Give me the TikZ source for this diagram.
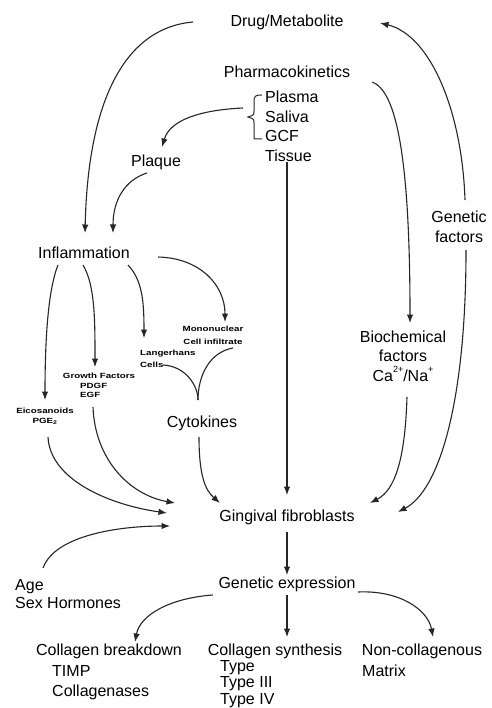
\documentclass[tikz,border=0pt]{standalone}
\usepackage{fontspec}
\setmainfont{Liberation Sans}
\newfontfamily\smallfnt[FakeStretch=1.3]{Liberation Sans}
\usetikzlibrary{calc,arrows.meta}
\newcommand{\supsm}[1]{\raisebox{0.55em}{\fontsize{9}{9}\selectfont #1}}
\begin{document}
\begin{tikzpicture}[x=1pt,y=-1pt,
  big/.style={font=\fontsize{16}{19.5}\selectfont, inner sep=0pt},
  tiny/.style={font=\smallfnt\bfseries\fontsize{7.5}{10}\selectfont, inner sep=0pt, align=center},
  arr/.style={draw=black!85, line width=1.1pt, -{Latex[length=8.5pt,width=6.5pt]}},
  ln/.style={draw=black!85, line width=1.1pt}]
\fill[white] (0,0) rectangle (491,708);
\useasboundingbox (0,0) rectangle (491,708);

% nodes
\node[big] (drug) at (287,22) {Drug/Metabolite};
\node[big] (pk) at (287,72) {Pharmacokinetics};
\node[big, anchor=west] (plasma) at (265,97) {Plasma};
\node[big, anchor=west] (saliva) at (265,117) {Saliva};
\node[big, anchor=west] (gcf) at (265,136) {GCF};
\node[big, anchor=west] (tissue) at (265,156) {Tissue};
\coordinate (bracetip) at (248,117);
\node[big] (plaque) at (156,162) {Plaque};
\node[big] (infl) at (84,253) {Inflammation};
\node[big, align=center] (genf) at (459,227) {Genetic\\factors};
\node[big, align=center] (biochem) at (403,356) {Biochemical\\factors\\Ca\supsm{2+}/Na\supsm{+}};
\node[tiny, font=\smallfnt\bfseries\fontsize{7.5}{13}\selectfont] (mono) at (213,335) {Mononuclear\\Cell infiltrate};
\node[tiny, align=left, anchor=west, font=\smallfnt\bfseries\fontsize{7.5}{12}\selectfont] (lang) at (140,359) {Langerhans\\Cells};
\node[tiny] (growth) at (99,376) {Growth Factors};
\node[tiny, anchor=west] (pdgf) at (80,386) {PDGF};
\node[tiny, anchor=west] (egf) at (80,395) {EGF};
\node[tiny] (eico) at (45,416) {Eicosanoids\\PGE\textsubscript{2}};
\node[big] (cyto) at (202,423) {Cytokines};
\node[big] (ging) at (287,517) {Gingival fibroblasts};
\node[big, align=left, anchor=west, font=\fontsize{16}{18}\selectfont] (age) at (15,594) {Age\\Sex Hormones};
\node[big] (genexp) at (287,584) {Genetic expression};
\node[big] (breakdown) at (109,651) {Collagen breakdown};
\node[big, align=left, anchor=west, font=\fontsize{16}{20}\selectfont] (bdlist) at (52,683) {TIMP\\Collagenases};
\node[big] (synth) at (275,651) {Collagen synthesis};
\node[big, align=left, anchor=west, font=\fontsize{16}{16.5}\selectfont] (types) at (220,684) {Type\\Type III\\Type IV};
\node[big] (noncol) at (422,651) {Non-collagenous};
\node[big, anchor=west] (matrix) at (362,671) {Matrix};

% brace
\draw[ln, line width=1pt] (262,95) .. controls (255,95) and (254,96) .. (254,102) -- (254,111)
  .. controls (254,115) .. (bracetip) .. controls (254,119) .. (254,123) -- (254,139) -- (262,139);

% connectors
\draw[arr] ($(drug)+(-94,0)$) .. controls (125,28) and (88,100) .. ($(infl)+(1,-20)$);
\draw[arr] ($(genf)+(6,-27)$) .. controls (462,110) and (430,35) .. ($(drug)+(93,1)$);
\draw[arr] ($(pk)+(85,10)$) .. controls (395,90) and (410,150) .. ($(biochem)+(7,-33)$);
\draw[arr] ($(bracetip)+(-5,-9)$) .. controls (200,110) and (170,120) .. ($(plaque)+(6,-15)$);
\draw[arr] ($(plaque)+(-9,11)$) .. controls (125,180) and (113,200) .. ($(infl)+(29,-20)$);
\draw[arr] (tissue.south -| ging) -- ($(ging)+(0,-22)$);

\draw[arr] ($(infl)+(-26,12)$) .. controls (48,290) and (45,340) .. ($(eico)+(0,-16)$);
\draw[arr] ($(infl)+(-1,12)$) .. controls (95,285) and (95,320) .. ($(growth)+(-4,-9)$);
\draw[arr] ($(infl)+(44,12)$) .. controls (142,280) and (144,300) .. ($(lang.west)+(4,-21)$);
\draw[arr] ($(infl)+(74,4)$) .. controls (200,258) and (225,285) .. ($(mono)+(12,-13)$);

\coordinate (join) at ($(cyto)+(-4,-23)$);
\draw[ln] ($(lang.west)+(23,6)$) .. controls (185,366) and (198,385) .. (join);
\draw[ln] ($(mono)+(20,13)$) .. controls (210,352) and (198,375) .. (join);

\draw[arr] ($(eico)+(3,21)$) .. controls (50,480) and (110,505) .. ($(ging)+(-120,-4)$);
\draw[arr] ($(egf.west)+(13,12)$) .. controls (95,460) and (130,495) .. ($(ging)+(-112,-14)$);
\draw[arr] ($(age.west)+(28,-26)$) .. controls (55,535) and (120,526) .. ($(ging)+(-117,9)$);
\draw[arr] ($(cyto)+(-3,14)$) .. controls (199,475) and (205,490) .. ($(ging)+(-67,-14)$);
\draw[arr] ($(biochem)+(4,41)$) .. controls (405,460) and (395,490) .. ($(ging)+(83,-14)$);
\draw[arr] ($(genf)+(7,23)$) .. controls (466,400) and (440,490) .. ($(ging)+(111,-5)$);

\draw[arr] ($(ging)+(0,15)$) -- ($(genexp)+(0,-9)$);
\draw[arr] ($(genexp)+(-74,11)$) .. controls (170,598) and (140,615) .. ($(breakdown)+(26,-9)$);
\draw[arr] ($(genexp)+(0,11)$) -- ($(synth)+(12,-14)$);
\draw[arr] ($(genexp)+(71,8)$) .. controls (400,590) and (428,610) .. ($(noncol)+(11,-14)$);
\end{tikzpicture}
\end{document}
